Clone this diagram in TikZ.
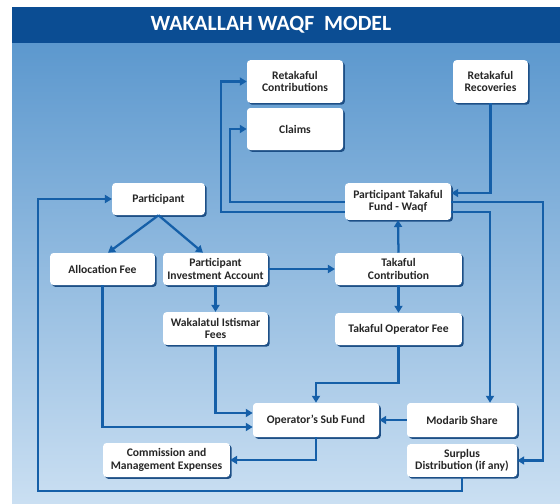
\documentclass[tikz,border=0pt]{standalone}
\usepackage{fontspec}
\setmainfont{Carlito}
\usetikzlibrary{arrows.meta}
\definecolor{hdr}{HTML}{0B4D93}
\definecolor{pantop}{HTML}{5C98CE}
\definecolor{panbot}{HTML}{CADFF2}
\definecolor{lineblue}{HTML}{155FA8}
\definecolor{shadowblue}{HTML}{1D4F86}
\definecolor{txt}{HTML}{262626}
\tikzset{
  box/.style={rectangle, rounded corners=2.5pt, fill=white, text=txt,
    font=\fontsize{8.7}{9.2}\selectfont\bfseries, align=center, inner sep=1pt,
    preaction={fill=shadowblue, transform canvas={xshift=1.4pt, yshift=-1.4pt}}},
  arr/.style={draw=lineblue, line width=1.7pt, -{Triangle[length=5.2pt,width=6pt]}},
}
\begin{document}
\begin{tikzpicture}[x=0.75pt,y=-0.75pt]
\useasboundingbox (0,0) rectangle (560,503);
\fill[white] (0,0) rectangle (560,503);
\shade[top color=pantop, bottom color=panbot] (12,43) rectangle (560,503);
\fill[hdr] (12,7) rectangle (560,43);
\node[text=white, font=\fontsize{16.3}{17}\selectfont\bfseries] (title) at (271,25) {WAKALLAH WAQF\ \ MODEL};

\node[box, minimum width=72pt, minimum height=32pt] (rc) at (295,81.5) {Retakaful\\Contributions};
\node[box, minimum width=72pt, minimum height=31.5pt] (claims) at (295,129) {Claims};
\node[box, minimum width=56pt, minimum height=32pt] (rr) at (490.5,81.5) {Retakaful\\Recoveries};
\node[box, minimum width=79.5pt, minimum height=27.5pt] (ptf) at (398,201.5) {Participant Takaful\\Fund - Waqf};
\node[box, minimum width=69.5pt, minimum height=24pt] (part) at (158.5,199) {Participant};
\node[box, minimum width=78.5pt, minimum height=24pt] (alloc) at (102.5,269) {Allocation Fee};
\node[box, minimum width=78.5pt, minimum height=24pt] (pia) at (215.5,269) {Participant\\Investment Account};
\node[box, minimum width=78.5pt, minimum height=24.5pt] (wak) at (215.5,328.5) {Wakalatul Istismar\\Fees};
\node[box, minimum width=95pt, minimum height=24pt] (tc) at (398.5,269) {Takaful\\Contribution};
\node[box, minimum width=95pt, minimum height=24pt] (tof) at (398.5,329) {Takaful Operator Fee};
\node[box, minimum width=94.5pt, minimum height=25.5pt] (osf) at (316,420) {Operator’s Sub Fund};
\node[box, minimum width=82.5pt, minimum height=25.5pt] (ms) at (462,420) {Modarib Share};
\node[box, minimum width=82.5pt, minimum height=24.5pt] (sd) at (462,460.5) {Surplus\\Distribution (if any)};
\node[box, minimum width=95pt, minimum height=25.5pt] (cme) at (166.5,460) {Commission and\\Management Expenses};

% connectors
\draw[arr] (rr.south) |- (ptf.east |- 0,193);
\draw[arr] (ptf.west |- 0,202) -- (230,202) |- (claims.west);
\draw[arr] (ptf.west |- 0,212) -- (221,212) |- (rc.west);
\draw[arr] (ptf.east |- 0,202) -- (543,202) |- (sd.east);
\draw[arr] (ptf.east |- 0,212) -| (ms.north -| 490,0);
\draw[arr] (tc.north) -- (ptf.south);
\draw[arr] (tc.south) -- (tof.north);
\draw[arr] (tof.south) |- (osf.north |- 0,383) -- (osf.north);
\draw[arr] (ms.west) -- (osf.east);
\draw[arr] (osf.south) |- (cme.east);
\draw[arr] (sd.south) |- (38,491) |- (part.west);
\draw[arr] (part.south) -- (alloc.north -| 108,0);
\draw[arr] (part.south) -- (pia.north -| 203,0);
\draw[arr] (pia.east) -- (tc.west);
\draw[arr] (pia.south) -- (wak.north);
\draw[arr] (alloc.south) |- (osf.west |- 0,427);
\draw[arr] (wak.south) |- (osf.west |- 0,413);
\end{tikzpicture}
\end{document}
